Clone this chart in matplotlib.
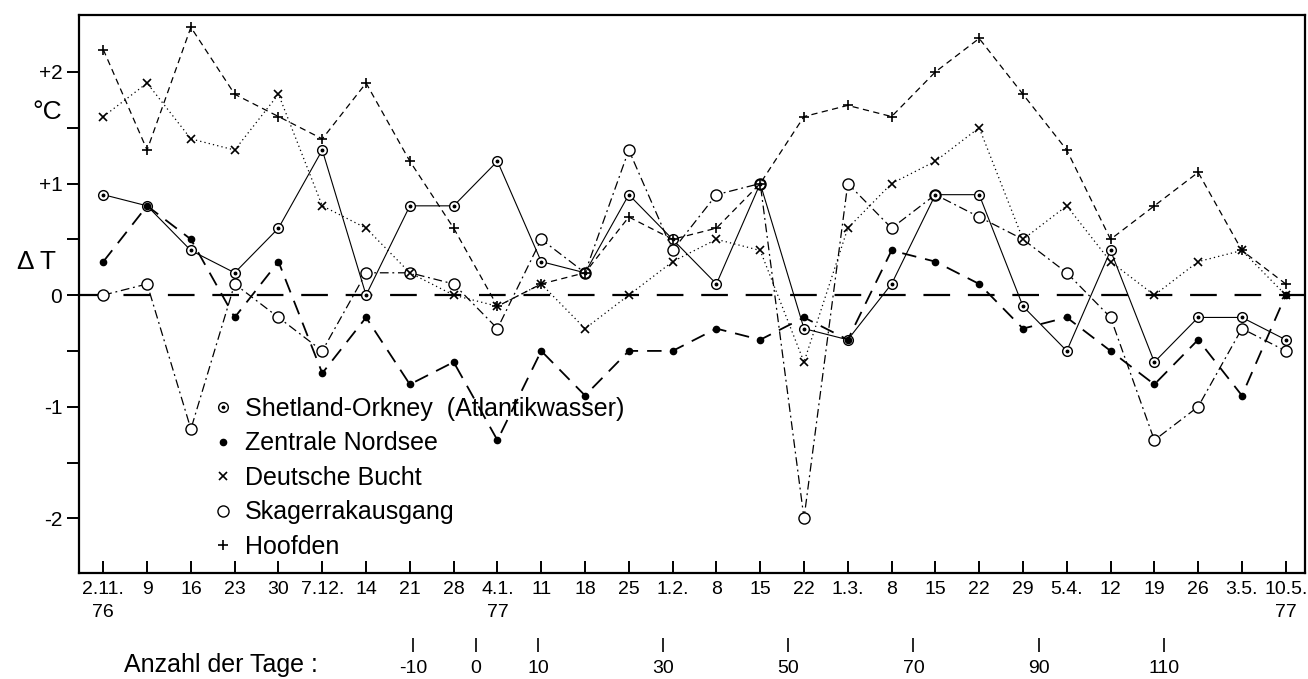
import numpy as np
import matplotlib
matplotlib.use("Agg")
from matplotlib import pyplot as plt

# Wochentermine Nov. 1976 - Mai 1977
dates = ['2.11.\n76', '9', '16', '23', '30', '7.12.', '14', '21', '28', '4.1.\n77',
         '11', '18', '25', '1.2.', '8', '15', '22', '1.3.', '8', '15', '22', '29',
         '5.4.', '12', '19', '26', '3.5.', '10.5.\n77']

shetland = [0.9, 0.8, 0.4, 0.2, 0.6, 1.3, 0.0, 0.8, 0.8, 1.2, 0.3, 0.2, 0.9, 0.5,
            0.1, 1.0, -0.3, -0.4, 0.1, 0.9, 0.9, -0.1, -0.5, 0.4, -0.6, -0.2, -0.2, -0.4]
zentral = [0.3, 0.8, 0.5, -0.2, 0.3, -0.7, -0.2, -0.8, -0.6, -1.3, -0.5, -0.9, -0.5, -0.5,
           -0.3, -0.4, -0.2, -0.4, 0.4, 0.3, 0.1, -0.3, -0.2, -0.5, -0.8, -0.4, -0.9, 0.0]
deutsche = [1.6, 1.9, 1.4, 1.3, 1.8, 0.8, 0.6, 0.2, 0.0, -0.1, 0.1, -0.3, 0.0, 0.3,
            0.5, 0.4, -0.6, 0.6, 1.0, 1.2, 1.5, 0.5, 0.8, 0.3, 0.0, 0.3, 0.4, 0.0]
skagerrak = [0.0, 0.1, -1.2, 0.1, -0.2, -0.5, 0.2, 0.2, 0.1, -0.3, 0.5, 0.2, 1.3, 0.4,
             0.9, 1.0, -2.0, 1.0, 0.6, 0.9, 0.7, 0.5, 0.2, -0.2, -1.3, -1.0, -0.3, -0.5]
hoofden = [2.2, 1.3, 2.4, 1.8, 1.6, 1.4, 1.9, 1.2, 0.6, -0.1, 0.1, 0.2, 0.7, 0.5,
           0.6, 1.0, 1.6, 1.7, 1.6, 2.0, 2.3, 1.8, 1.3, 0.5, 0.8, 1.1, 0.4, 0.1]

tage = [-10, 0, 10, 30, 50, 70, 90, 110]
ytick_vals = [-2, -1, 0, 1, 2]
ytick_labels = ['-2', '-1', '0', '+1', '+2']

plt.rcParams['font.family'] = ['Liberation Sans', 'DejaVu Sans']

fig = plt.figure(figsize=(13.08, 6.79), dpi=100)
ax = fig.add_axes([79/1308, 1-573/679, (1305-79)/1308, (573-15)/679])

x = np.arange(len(dates))

ax.axhline(0, color='black', lw=1.6, ls=(0, (12, 8)), zorder=1)

h_sh, = ax.plot(x, shetland, color='black', lw=0.8, ls='-', marker='o', ms=7,
                mfc='white', mec='black', mew=1.0, zorder=3)
h_shd, = ax.plot(x, shetland, ls='none', marker='o', ms=1.8, color='black', zorder=4)
h_ze, = ax.plot(x, zentral, color='black', lw=1.3, ls=(0, (8, 5)), marker='o', ms=4.5,
                zorder=3)
h_de, = ax.plot(x, deutsche, color='black', lw=0.9, ls=(0, (1, 2.5)), marker='x', ms=6,
                mew=1.2, zorder=3)
h_sk, = ax.plot(x, skagerrak, color='black', lw=0.9, ls=(0, (7, 3, 1.5, 3)), marker='o',
                ms=8, mfc='white', mec='black', mew=1.0, zorder=2)
h_ho, = ax.plot(x, hoofden, color='black', lw=0.9, ls=(0, (5, 3.5)), marker='+', ms=7,
                mew=1.2, zorder=3)

ax.set_xlim(-0.555, 27.44)
ax.set_ylim(-2.49, 2.51)

ax.set_xticks(x)
ax.set_xticklabels(dates, fontsize=14, linespacing=1.45)
ax.tick_params(axis='x', direction='in', length=9, width=1.4, pad=6)
ax.set_yticks(ytick_vals)
ax.set_yticklabels(ytick_labels, fontsize=15)
ax.set_yticks([-1.5, -0.5, 0.5, 1.5], minor=True)
ax.tick_params(axis='y', which='both', direction='out', length=9, width=1.4, pad=3)
for s in ax.spines.values():
    s.set_linewidth(1.6)

# zweite Skala: Anzahl der Tage
sec = ax.secondary_xaxis(-65/558, functions=(lambda v: (v - 8.5) * 7, lambda d: 8.5 + d / 7))
sec.spines['bottom'].set_visible(False)
sec.set_xticks(tage)
sec.set_xticklabels([str(t) for t in tage], fontsize=14)
sec.tick_params(direction='out', length=10, width=1.2, pad=6)

fig.text(318/1308, 1-665/679, 'Anzahl der Tage :', fontsize=18, ha='right', va='center')
fig.text(62/1308, 1-112/679, '°C', fontsize=19, ha='right', va='center')
fig.text(56/1308, 1-262/679, 'Δ T', fontsize=19, ha='right', va='center')

leg = ax.legend([(h_sh, h_shd), h_ze, h_de, h_sk, h_ho],
                ['Shetland-Orkney  (Atlantikwasser)', 'Zentrale Nordsee', 'Deutsche Bucht',
                 'Skagerrakausgang', 'Hoofden'],
                loc='upper left', bbox_to_anchor=(211/1308, 1-397/679),
                bbox_transform=fig.transFigure, frameon=False, fontsize=18,
                borderpad=0, borderaxespad=0, handlelength=0.95, handletextpad=0.42,
                labelspacing=0.42)
for line in leg.get_lines():
    line.set_linestyle('none')

fig.savefig('out.png', dpi=100)
